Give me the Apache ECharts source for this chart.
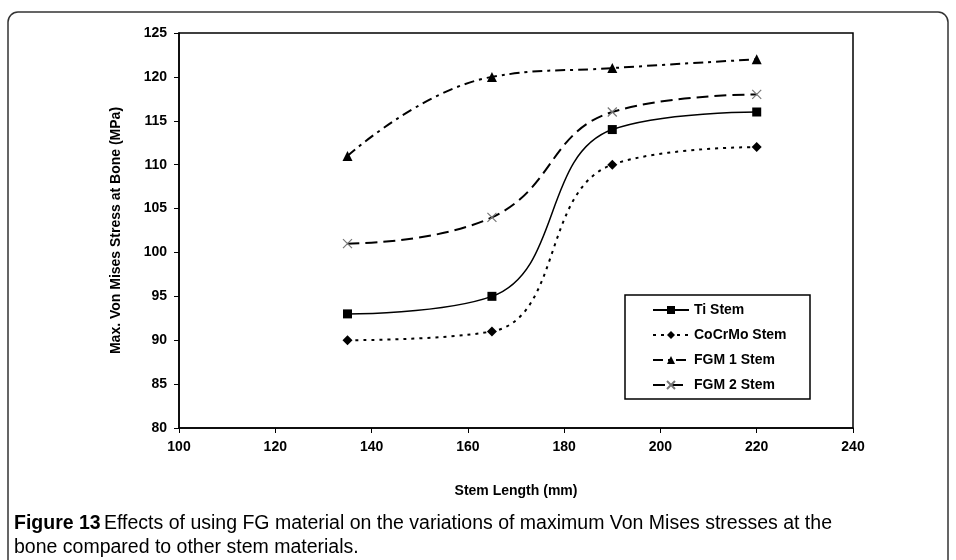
<!DOCTYPE html>
<html><head><meta charset="utf-8">
<script src="https://cdn.jsdelivr.net/npm/echarts@6/dist/echarts.min.js"></script>
<style>html,body{margin:0;padding:0;background:#fff}#c{width:956px;height:560px}</style>
</head><body><div id="c"></div>
<script>
const stemLength = [135, 165, 190, 220];
const tiStem = [93, 95, 114, 116];
const coCrMoStem = [90, 91, 110, 112];
const fgm1Stem = [111, 120, 121, 122];
const fgm2Stem = [101, 104, 116, 118];
const seriesNames = ['Ti Stem', 'CoCrMo Stem', 'FGM 1 Stem', 'FGM 2 Stem'];
const xTitle = 'Stem Length (mm)';
const yTitle = 'Max. Von Mises Stress at Bone (MPa)';

const F = "'Liberation Sans', Arial, sans-serif";
const chart = echarts.init(document.getElementById('c'), null, {renderer: 'canvas'});
const pair = arr => stemLength.map((x, i) => [x, arr[i]]);
const xPath = 'path://M0,0L10,10M10,0L0,10';

chart.setOption({
  animation: false,
  grid: {left: 179, right: 103, top: 33, bottom: 132, show: true, borderColor: '#000', borderWidth: 1.5, backgroundColor: 'transparent'},
  xAxis: {
    type: 'value', min: 100, max: 240, interval: 20,
    name: xTitle, nameLocation: 'middle', nameGap: 56,
    nameTextStyle: {fontFamily: F, fontWeight: 'bold', fontSize: 14, color: '#000'},
    axisLine: {lineStyle: {color: '#000', width: 1.5}},
    axisTick: {length: 5, lineStyle: {color: '#000'}},
    axisLabel: {fontFamily: F, fontWeight: 'bold', fontSize: 14, color: '#000', margin: 12},
    splitLine: {show: false}
  },
  yAxis: {
    type: 'value', min: 80, max: 125, interval: 5,
    name: yTitle, nameLocation: 'middle', nameGap: 56, nameRotate: 90,
    nameTextStyle: {fontFamily: F, fontWeight: 'bold', fontSize: 14, color: '#000'},
    axisLine: {lineStyle: {color: '#000', width: 1.5}},
    axisTick: {length: 5, lineStyle: {color: '#000'}},
    axisLabel: {fontFamily: F, fontWeight: 'bold', fontSize: 14, color: '#000', margin: 12},
    splitLine: {show: false}
  },
  legend: {
    orient: 'vertical', left: 652, top: 303, itemGap: 11, itemWidth: 36, itemHeight: 10,
    padding: 0,
    textStyle: {fontFamily: F, fontWeight: 'bold', fontSize: 14, color: '#000'},
    data: seriesNames
  },
  series: [
    {name: seriesNames[0], type: 'line', data: pair(tiStem), smooth: 0.45, symbol: 'rect', symbolSize: 9,
     lineStyle: {color: '#000', width: 1.5, type: 'solid'}, itemStyle: {color: '#000'}},
    {name: seriesNames[1], type: 'line', data: pair(coCrMoStem), smooth: 0.45, symbol: 'diamond', symbolSize: 10,
     lineStyle: {color: '#000', width: 2, type: [3, 5]}, itemStyle: {color: '#000'}},
    {name: seriesNames[2], type: 'line', data: pair(fgm1Stem), smooth: 0.45, symbol: 'triangle', symbolSize: 10,
     lineStyle: {color: '#000', width: 2, type: [10, 5, 3, 5]}, itemStyle: {color: '#000'}},
    {name: seriesNames[3], type: 'line', data: pair(fgm2Stem), smooth: 0.45, symbol: xPath, symbolSize: 9,
     lineStyle: {color: '#000', width: 2, type: [12, 6]}, itemStyle: {color: 'rgba(0,0,0,0)', borderColor: '#777', borderWidth: 1.2}}
  ],
  graphic: [
    {type: 'rect', shape: {x: 8, y: 12, width: 940, height: 560, r: 10}, style: {fill: 'none', stroke: '#333', lineWidth: 1.5}, silent: true},
    {type: 'rect', shape: {x: 625, y: 295, width: 185, height: 104}, style: {fill: '#fff', stroke: '#000', lineWidth: 1.5}, z: -1, silent: true},
    {type: 'text', left: 14, top: 514, style: {rich: {b: {fontFamily: F, fontWeight: 'bold', fontSize: 19.5, fill: '#000'}, n: {fontFamily: F, fontSize: 19.5, fill: '#000'}},
      text: '{b|Figure 13} {n|Effects of using FG material on the variations of maximum Von Mises stresses at the}'}},
    {type: 'text', left: 14, top: 538, style: {text: 'bone compared to other stem materials.', fontFamily: F, fontSize: 19.5, fill: '#000'}}
  ]
});
</script></body></html>
